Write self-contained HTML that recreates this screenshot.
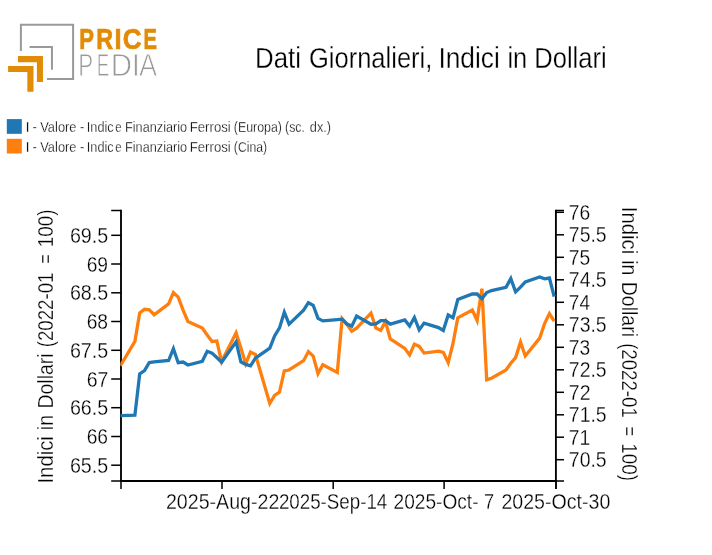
<!DOCTYPE html>
<html><head><meta charset="utf-8"><title>Dati Giornalieri, Indici in Dollari</title>
<style>
html,body{margin:0;padding:0;background:#fff;}
body{width:712px;height:555px;overflow:hidden;font-family:"Liberation Sans",sans-serif;}
svg{display:block;will-change:transform;}
text{font-family:"Liberation Sans",sans-serif;white-space:pre;}
.thin{stroke:#fff;stroke-width:0.3px;}
.thin2{stroke:#fff;stroke-width:0.3px;}
.thinner{stroke:#fff;stroke-width:0.8px;}
.bold{stroke-width:0.7px;}
.thinT{stroke:#fff;stroke-width:0.3px;}
</style></head><body>
<svg width="712" height="555" viewBox="0 0 712 555">
<rect width="712" height="555" fill="#fff"/>
<g fill="none" stroke="#999" stroke-width="2">
<path d="M20.9,50.9 V24.75 H73.1 V78.95 H47"/>
<path d="M29.6,46.95 H51.95 V69.8"/>
</g>
<path fill="#E28B04" d="M18,56.1 H42.95 V82 H36.9 V62.2 H18 Z"/>
<path fill="#E28B04" d="M8.1,66 H33.5 V91.75 H27.35 V72 H8.1 Z"/>
<text x="79.35" y="48.55" font-size="29.91" fill="#E28B04" font-weight="bold" stroke="#E28B04" class="bold" textLength="14.70" lengthAdjust="spacingAndGlyphs">P</text>
<text x="96.15" y="48.55" font-size="29.91" fill="#E28B04" font-weight="bold" stroke="#E28B04" class="bold" textLength="16.86" lengthAdjust="spacingAndGlyphs">R</text>
<text x="114.50" y="48.55" font-size="29.91" fill="#E28B04" font-weight="bold" stroke="#E28B04" class="bold" textLength="7.07" lengthAdjust="spacingAndGlyphs">I</text>
<text x="122.65" y="48.55" font-size="29.91" fill="#E28B04" font-weight="bold" stroke="#E28B04" class="bold" textLength="18.77" lengthAdjust="spacingAndGlyphs">C</text>
<text x="143.45" y="48.55" font-size="29.91" fill="#E28B04" font-weight="bold" stroke="#E28B04" class="bold" textLength="13.47" lengthAdjust="spacingAndGlyphs">E</text>
<text x="78.35" y="75.50" font-size="31.07" fill="#999" class="thinner" textLength="14.96" lengthAdjust="spacingAndGlyphs">P</text>
<text x="96.75" y="75.50" font-size="31.07" fill="#999" class="thinner" textLength="12.40" lengthAdjust="spacingAndGlyphs">E</text>
<text x="110.75" y="75.50" font-size="31.07" fill="#999" class="thinner" textLength="21.33" lengthAdjust="spacingAndGlyphs">D</text>
<text x="131.55" y="75.50" font-size="31.07" fill="#999" class="thinner">I</text>
<text x="138.95" y="75.50" font-size="31.07" fill="#999" class="thinner" textLength="18.13" lengthAdjust="spacingAndGlyphs">A</text>
<text x="255.05" y="67.85" font-size="30.28" fill="#000" class="thinT" textLength="45.93" lengthAdjust="spacingAndGlyphs">Dati</text>
<text x="308.90" y="67.85" font-size="30.28" fill="#000" class="thinT" textLength="123.48" lengthAdjust="spacingAndGlyphs">Giornalieri,</text>
<text x="438.40" y="67.85" font-size="30.28" fill="#000" class="thinT" textLength="61.43" lengthAdjust="spacingAndGlyphs">Indici</text>
<text x="507.45" y="67.85" font-size="30.28" fill="#000" class="thinT" textLength="19.75" lengthAdjust="spacingAndGlyphs">in</text>
<text x="534.25" y="67.85" font-size="30.28" fill="#000" class="thinT" textLength="72.34" lengthAdjust="spacingAndGlyphs">Dollari</text>
<rect x="6.8" y="119.1" width="15" height="14.7" fill="#1f77b4"/>
<rect x="6.8" y="138.8" width="15" height="14.7" fill="#ff7f0e"/>
<text x="25.55" y="132.00" font-size="15.04" fill="#000" class="thin2">I</text>
<text x="32.55" y="132.00" font-size="15.04" fill="#000" class="thin2" textLength="4.26" lengthAdjust="spacingAndGlyphs">-</text>
<text x="40.25" y="132.00" font-size="15.04" fill="#000" class="thin2" textLength="36.23" lengthAdjust="spacingAndGlyphs">Valore</text>
<text x="79.95" y="132.00" font-size="15.04" fill="#000" class="thin2" textLength="4.41" lengthAdjust="spacingAndGlyphs">-</text>
<text x="86.80" y="132.00" font-size="15.04" fill="#000" class="thin2" textLength="26.83" lengthAdjust="spacingAndGlyphs">Indic</text>
<text x="115.35" y="132.00" font-size="15.04" fill="#000" class="thin2" textLength="6.32" lengthAdjust="spacingAndGlyphs">e</text>
<text x="125.05" y="132.00" font-size="15.04" fill="#000" class="thin2" textLength="62.07" lengthAdjust="spacingAndGlyphs">Finanziario</text>
<text x="189.75" y="132.00" font-size="15.04" fill="#000" class="thin2" textLength="41.00" lengthAdjust="spacingAndGlyphs">Ferrosi</text>
<text x="233.80" y="132.00" font-size="15.04" fill="#000" class="thin2" textLength="48.18" lengthAdjust="spacingAndGlyphs">(Europa)</text>
<text x="285.10" y="132.00" font-size="15.04" fill="#000" class="thin2" textLength="19.84" lengthAdjust="spacingAndGlyphs">(sc.</text>
<text x="309.85" y="132.00" font-size="15.04" fill="#000" class="thin2" textLength="21.24" lengthAdjust="spacingAndGlyphs">dx.)</text>
<text x="25.55" y="151.90" font-size="15.04" fill="#000" class="thin2">I</text>
<text x="32.55" y="151.90" font-size="15.04" fill="#000" class="thin2" textLength="4.26" lengthAdjust="spacingAndGlyphs">-</text>
<text x="40.25" y="151.90" font-size="15.04" fill="#000" class="thin2" textLength="36.23" lengthAdjust="spacingAndGlyphs">Valore</text>
<text x="79.95" y="151.90" font-size="15.04" fill="#000" class="thin2" textLength="4.41" lengthAdjust="spacingAndGlyphs">-</text>
<text x="86.80" y="151.90" font-size="15.04" fill="#000" class="thin2" textLength="26.83" lengthAdjust="spacingAndGlyphs">Indic</text>
<text x="115.35" y="151.90" font-size="15.04" fill="#000" class="thin2" textLength="6.32" lengthAdjust="spacingAndGlyphs">e</text>
<text x="125.05" y="151.90" font-size="15.04" fill="#000" class="thin2" textLength="62.07" lengthAdjust="spacingAndGlyphs">Finanziario</text>
<text x="189.75" y="151.90" font-size="15.04" fill="#000" class="thin2" textLength="41.00" lengthAdjust="spacingAndGlyphs">Ferrosi</text>
<text x="233.80" y="151.90" font-size="15.04" fill="#000" class="thin2" textLength="33.35" lengthAdjust="spacingAndGlyphs">(Cina)</text>
<path stroke="#000" stroke-width="1.85" fill="none" d="M121,209.85 V482 M555.9,209.85 V482 M120,481 H557"/>
<path stroke="#000" stroke-width="1.5" fill="none" d="M111.2,210.6 H121 M111.2,481 H121 M556,210.6 H564 M556,481 H564 M121,481 V489.1 M556,481 V489.1"/>
<path stroke="#000" stroke-width="1.5" fill="none" d="M111.2,235.3 H121"/>
<text x="69.95" y="242.80" font-size="22.97" fill="#000" class="thin" textLength="38.28" lengthAdjust="spacingAndGlyphs">69.5</text>
<path stroke="#000" stroke-width="1.5" fill="none" d="M111.2,264.0 H121"/>
<text x="86.65" y="271.54" font-size="22.97" fill="#000" class="thin" textLength="21.43" lengthAdjust="spacingAndGlyphs">69</text>
<path stroke="#000" stroke-width="1.5" fill="none" d="M111.2,292.8 H121"/>
<text x="69.95" y="300.28" font-size="22.97" fill="#000" class="thin" textLength="38.28" lengthAdjust="spacingAndGlyphs">68.5</text>
<path stroke="#000" stroke-width="1.5" fill="none" d="M111.2,321.5 H121"/>
<text x="86.65" y="329.02" font-size="22.97" fill="#000" class="thin" textLength="21.43" lengthAdjust="spacingAndGlyphs">68</text>
<path stroke="#000" stroke-width="1.5" fill="none" d="M111.2,350.3 H121"/>
<text x="69.95" y="357.76" font-size="22.97" fill="#000" class="thin" textLength="38.28" lengthAdjust="spacingAndGlyphs">67.5</text>
<path stroke="#000" stroke-width="1.5" fill="none" d="M111.2,379.0 H121"/>
<text x="86.65" y="386.50" font-size="22.97" fill="#000" class="thin" textLength="21.71" lengthAdjust="spacingAndGlyphs">67</text>
<path stroke="#000" stroke-width="1.5" fill="none" d="M111.2,407.7 H121"/>
<text x="69.95" y="415.24" font-size="22.97" fill="#000" class="thin" textLength="38.28" lengthAdjust="spacingAndGlyphs">66.5</text>
<path stroke="#000" stroke-width="1.5" fill="none" d="M111.2,436.5 H121"/>
<text x="86.65" y="443.98" font-size="22.97" fill="#000" class="thin" textLength="21.43" lengthAdjust="spacingAndGlyphs">66</text>
<path stroke="#000" stroke-width="1.5" fill="none" d="M111.2,465.2 H121"/>
<text x="69.95" y="472.72" font-size="22.97" fill="#000" class="thin" textLength="38.28" lengthAdjust="spacingAndGlyphs">65.5</text>
<path stroke="#000" stroke-width="1.5" fill="none" d="M556,212.3 H564"/>
<text x="568.85" y="219.85" font-size="22.97" fill="#000" class="thin" textLength="21.43" lengthAdjust="spacingAndGlyphs">76</text>
<path stroke="#000" stroke-width="1.5" fill="none" d="M556,234.8 H564"/>
<text x="568.85" y="242.34" font-size="22.97" fill="#000" class="thin" textLength="37.82" lengthAdjust="spacingAndGlyphs">75.5</text>
<path stroke="#000" stroke-width="1.5" fill="none" d="M556,257.3 H564"/>
<text x="568.85" y="264.83" font-size="22.97" fill="#000" class="thin" textLength="21.43" lengthAdjust="spacingAndGlyphs">75</text>
<path stroke="#000" stroke-width="1.5" fill="none" d="M556,279.8 H564"/>
<text x="568.85" y="287.32" font-size="22.97" fill="#000" class="thin" textLength="37.82" lengthAdjust="spacingAndGlyphs">74.5</text>
<path stroke="#000" stroke-width="1.5" fill="none" d="M556,302.3 H564"/>
<text x="568.85" y="309.81" font-size="22.97" fill="#000" class="thin" textLength="21.12" lengthAdjust="spacingAndGlyphs">74</text>
<path stroke="#000" stroke-width="1.5" fill="none" d="M556,324.8 H564"/>
<text x="568.85" y="332.30" font-size="22.97" fill="#000" class="thin" textLength="37.82" lengthAdjust="spacingAndGlyphs">73.5</text>
<path stroke="#000" stroke-width="1.5" fill="none" d="M556,347.3 H564"/>
<text x="568.85" y="354.79" font-size="22.97" fill="#000" class="thin" textLength="21.43" lengthAdjust="spacingAndGlyphs">73</text>
<path stroke="#000" stroke-width="1.5" fill="none" d="M556,369.8 H564"/>
<text x="568.85" y="377.28" font-size="22.97" fill="#000" class="thin" textLength="37.82" lengthAdjust="spacingAndGlyphs">72.5</text>
<path stroke="#000" stroke-width="1.5" fill="none" d="M556,392.3 H564"/>
<text x="568.85" y="399.77" font-size="22.97" fill="#000" class="thin" textLength="21.71" lengthAdjust="spacingAndGlyphs">72</text>
<path stroke="#000" stroke-width="1.5" fill="none" d="M556,414.8 H564"/>
<text x="568.85" y="422.26" font-size="22.97" fill="#000" class="thin" textLength="37.82" lengthAdjust="spacingAndGlyphs">71.5</text>
<path stroke="#000" stroke-width="1.5" fill="none" d="M556,437.2 H564"/>
<text x="568.85" y="444.75" font-size="22.97" fill="#000" class="thin" textLength="21.43" lengthAdjust="spacingAndGlyphs">71</text>
<path stroke="#000" stroke-width="1.5" fill="none" d="M556,459.7 H564"/>
<text x="568.85" y="467.24" font-size="22.97" fill="#000" class="thin" textLength="37.82" lengthAdjust="spacingAndGlyphs">70.5</text>
<path stroke="#000" stroke-width="1.5" fill="none" d="M222.0,481 V489.1"/>
<path stroke="#000" stroke-width="1.5" fill="none" d="M333.2,481 V489.1"/>
<path stroke="#000" stroke-width="1.5" fill="none" d="M444.1,481 V489.1"/>
<path stroke="#000" stroke-width="1.5" fill="none" d="M556.0,481 V489.1"/>
<text x="165.95" y="508.50" font-size="22.97" fill="#000" class="thin" textLength="113.40" lengthAdjust="spacingAndGlyphs">2025-Aug-22</text>
<text x="278.90" y="508.50" font-size="22.97" fill="#000" class="thin" textLength="108.38" lengthAdjust="spacingAndGlyphs">2025-Sep-14</text>
<text x="393.60" y="508.50" font-size="22.97" fill="#000" class="thin" textLength="84.95" lengthAdjust="spacingAndGlyphs">2025-Oct-</text>
<text x="484.10" y="508.50" font-size="22.97" fill="#000" class="thin" textLength="10.12" lengthAdjust="spacingAndGlyphs">7</text>
<text x="501.45" y="508.50" font-size="22.97" fill="#000" class="thin" textLength="108.89" lengthAdjust="spacingAndGlyphs">2025-Oct-30</text>
<g transform="translate(52.9,482.25) rotate(-90)">
<text x="-1.30" y="0.00" font-size="22.69" fill="#000" class="thin" textLength="47.42" lengthAdjust="spacingAndGlyphs">Indici</text>
<text x="52.10" y="0.00" font-size="22.69" fill="#000" class="thin" textLength="15.15" lengthAdjust="spacingAndGlyphs">in</text>
<text x="73.65" y="0.00" font-size="22.69" fill="#000" class="thin" textLength="55.29" lengthAdjust="spacingAndGlyphs">Dollari</text>
<text x="135.05" y="0.00" font-size="22.69" fill="#000" class="thin" textLength="74.62" lengthAdjust="spacingAndGlyphs">(2022-01</text>
<text x="218.40" y="0.00" font-size="22.69" fill="#000" class="thin" textLength="9.51" lengthAdjust="spacingAndGlyphs">=</text>
<text x="235.10" y="0.00" font-size="22.69" fill="#000" class="thin" textLength="37.82" lengthAdjust="spacingAndGlyphs">100)</text>
</g>
<g transform="translate(622.1,208.1) rotate(90)">
<text x="-1.30" y="0.00" font-size="22.69" fill="#000" class="thin" textLength="47.42" lengthAdjust="spacingAndGlyphs">Indici</text>
<text x="52.10" y="0.00" font-size="22.69" fill="#000" class="thin" textLength="15.15" lengthAdjust="spacingAndGlyphs">in</text>
<text x="73.65" y="0.00" font-size="22.69" fill="#000" class="thin" textLength="55.29" lengthAdjust="spacingAndGlyphs">Dollari</text>
<text x="135.05" y="0.00" font-size="22.69" fill="#000" class="thin" textLength="74.62" lengthAdjust="spacingAndGlyphs">(2022-01</text>
<text x="218.40" y="0.00" font-size="22.69" fill="#000" class="thin" textLength="9.51" lengthAdjust="spacingAndGlyphs">=</text>
<text x="235.10" y="0.00" font-size="22.69" fill="#000" class="thin" textLength="37.82" lengthAdjust="spacingAndGlyphs">100)</text>
</g>
<clipPath id="c"><rect x="120.3" y="200" width="440" height="290"/></clipPath>
<g clip-path="url(#c)" fill="none" stroke-width="3.3" stroke-linejoin="miter">
<path d="M120.4,365.7 L134.9,341.3 L139.7,312.9 L144.5,309.3 L149.3,309.8 L154.1,314.7 L168.6,303.9 L173.4,292.5 L178.2,297.1 L183.1,310.2 L187.9,321.5 L202.3,328.0 L207.2,335.0 L212.0,341.5 L216.8,341.0 L221.6,361.6 L236.1,332.8 L240.9,348.1 L245.7,363.7 L250.5,352.1 L255.4,354.5 L269.8,403.5 L274.6,395.5 L279.5,392.1 L284.3,370.9 L289.1,370.0 L303.6,360.7 L308.4,351.6 L313.2,356.1 L318.0,373.6 L322.8,364.8 L337.3,372.5 L342.1,318.6 L346.9,324.4 L351.8,331.2 L356.6,328.2 L371.0,313.1 L375.9,328.1 L380.7,330.4 L385.5,321.7 L390.3,338.9 L404.8,348.4 L409.6,355.0 L414.4,344.1 L419.2,346.4 L424.1,353.1 L438.5,351.1 L443.3,352.3 L448.2,362.7 L453.0,343.4 L457.8,317.8 L472.3,310.1 L477.1,320.5 L481.9,288.7 L486.7,379.8 L491.5,378.3 L506.0,370.0 L510.8,363.2 L515.6,357.6 L520.5,342.1 L525.3,356.0 L539.7,338.1 L544.6,323.5 L549.4,313.6 L554.2,321.1" stroke="#ff7f0e"/>
<path d="M120.4,415.6 L134.9,415.2 L139.7,373.9 L144.5,370.7 L149.3,362.5 L154.1,361.9 L168.6,360.5 L173.4,348.7 L178.2,362.7 L183.1,362.0 L187.9,365.0 L202.3,361.3 L207.2,351.3 L212.0,353.1 L216.8,357.5 L221.6,362.2 L236.1,341.9 L240.9,361.8 L245.7,364.4 L250.5,365.8 L255.4,358.1 L269.8,348.1 L274.6,336.0 L279.5,327.9 L284.3,312.3 L289.1,324.2 L303.6,310.2 L308.4,302.7 L313.2,305.3 L318.0,318.4 L322.8,320.9 L337.3,319.6 L342.1,319.1 L346.9,324.0 L351.8,326.1 L356.6,316.1 L371.0,324.2 L375.9,323.9 L380.7,320.6 L385.5,320.6 L390.3,324.1 L404.8,320.0 L409.6,326.1 L414.4,317.5 L419.2,329.9 L424.1,323.1 L438.5,327.6 L443.3,330.5 L448.2,315.0 L453.0,317.8 L457.8,299.5 L472.3,293.9 L477.1,294.0 L481.9,298.8 L486.7,292.6 L491.5,290.6 L506.0,287.4 L510.8,278.6 L515.6,291.9 L520.5,287.2 L525.3,282.0 L539.7,276.9 L544.6,278.8 L549.4,278.0 L554.2,296.6" stroke="#1f77b4"/>
</g>
</svg>
</body></html>
